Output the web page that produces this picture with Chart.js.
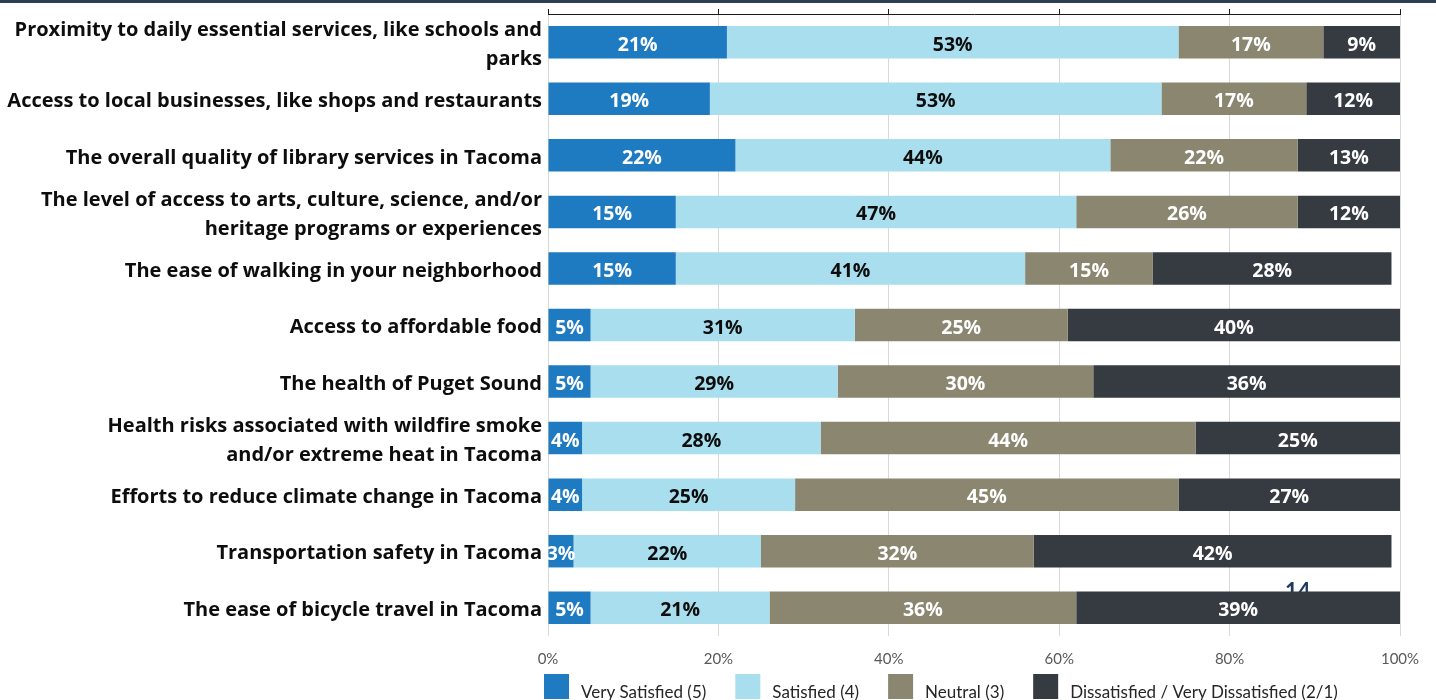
<!DOCTYPE html>
<html>
<head>
<meta charset="utf-8">
<title>Satisfaction with neighborhood and city services</title>
<script src="https://cdn.jsdelivr.net/npm/chart.js@4.4.1/dist/chart.umd.min.js"></script>
<style>
  html, body { margin: 0; padding: 0; background: #ffffff; }
  #wrap { width: 1436px; height: 700px; position: relative; overflow: hidden; }
  canvas { display: block; }
</style>
</head>
<body>
<div id="wrap"><canvas id="chart" width="1436" height="700"></canvas></div>
<script>
// Survey items (multi-line entries are wrapped as shown on the axis)
const categories = [
  ['Proximity to daily essential services, like schools and', 'parks'],
  'Access to local businesses, like shops and restaurants',
  'The overall quality of library services in Tacoma',
  ['The level of access to arts, culture, science, and/or', 'heritage programs or experiences'],
  'The ease of walking in your neighborhood',
  'Access to affordable food',
  'The health of Puget Sound',
  ['Health risks associated with wildfire smoke', 'and/or extreme heat in Tacoma'],
  'Efforts to reduce climate change in Tacoma',
  'Transportation safety in Tacoma',
  'The ease of bicycle travel in Tacoma'
];

const seriesNames = [
  'Very Satisfied (5)',
  'Satisfied (4)',
  'Neutral (3)',
  'Dissatisfied / Very Dissatisfied (2/1)'
];

// Share of respondents (%) per item
const verySatisfied = [21, 19, 22, 15, 15, 5, 5, 4, 4, 3, 5];
const satisfied     = [53, 53, 44, 47, 41, 31, 29, 28, 25, 22, 21];
const neutral       = [17, 17, 22, 26, 15, 25, 30, 44, 45, 32, 36];
const dissatisfied  = [9, 12, 13, 12, 28, 40, 36, 25, 27, 42, 39];

const xTickValues = [0, 20, 40, 60, 80, 100];
const pageNumber = '14';

const LABEL_FONT = '"Open Sans", Lato, "DejaVu Sans", sans-serif';
const SMALL_FONT = 'Lato, "Open Sans", "DejaVu Sans", sans-serif';

// Value labels centred on each visible segment
const segmentLabels = {
  id: 'segmentLabels',
  afterDatasetsDraw(chart) {
    const { ctx, chartArea: a } = chart;
    ctx.save();
    ctx.beginPath();
    ctx.rect(a.left, a.top, a.right - a.left, a.bottom - a.top);
    ctx.clip();
    ctx.font = 'bold 19.5px ' + LABEL_FONT;
    ctx.textAlign = 'center';
    ctx.textBaseline = 'alphabetic';
    chart.data.datasets.forEach((ds, di) => {
      const meta = chart.getDatasetMeta(di);
      meta.data.forEach((bar, i) => {
        const v = ds.data[i];
        const lo = Math.max(Math.min(bar.base, bar.x), a.left);
        const hi = Math.min(Math.max(bar.base, bar.x), a.right);
        ctx.fillStyle = ds.labelColor;
        ctx.fillText(v + '%', (lo + hi) / 2, bar.y + 8.5);
      });
    });
    ctx.restore();
  }
};

// Slide band along the top edge and the page number sitting behind the last bar
const slideDecor = {
  id: 'slideDecor',
  beforeDraw(chart) {
    const ctx = chart.ctx;
    ctx.save();
    ctx.fillStyle = '#2e3d52';
    ctx.fillRect(0, 0, chart.width, 3);
    ctx.restore();
  },
  beforeDatasetsDraw(chart) {
    const ctx = chart.ctx;
    const x = chart.scales.x.getPixelForValue(88);
    ctx.save();
    ctx.font = 'bold 22px ' + SMALL_FONT;
    ctx.fillStyle = '#1f3a5f';
    ctx.textAlign = 'center';
    ctx.textBaseline = 'top';
    ctx.fillText(pageNumber, x, 581);
    ctx.restore();
  }
};

// Legend row under the axis
const bottomLegend = {
  id: 'bottomLegend',
  afterDraw(chart) {
    const ctx = chart.ctx;
    const box = 25, gapText = 12, gapItem = 29;
    let x = 544;
    const top = 674;
    ctx.save();
    ctx.font = '17px ' + SMALL_FONT;
    ctx.textAlign = 'left';
    ctx.textBaseline = 'alphabetic';
    chart.data.datasets.forEach(ds => {
      ctx.fillStyle = ds.backgroundColor;
      ctx.fillRect(x, top, box, box);
      ctx.fillStyle = '#262626';
      const tx = x + box + gapText;
      ctx.fillText(ds.label, tx, 698);
      x = tx + ctx.measureText(ds.label).width + gapItem;
    });
    ctx.restore();
  }
};

const palette = ['#1f7bc1', '#a9deee', '#8b8670', '#363b42'];
const labelColors = ['#ffffff', '#0d0d0d', '#ffffff', '#ffffff'];
const seriesValues = [verySatisfied, satisfied, neutral, dissatisfied];

const setTicks = scale => { scale.ticks = xTickValues.map(v => ({ value: v })); };
const noPadding = s => { s.paddingTop = 0; s.paddingBottom = 0; s.paddingLeft = 0; s.paddingRight = 0; };

new Chart(document.getElementById('chart'), {
  type: 'bar',
  data: {
    labels: categories,
    datasets: seriesValues.map((vals, i) => ({
      label: seriesNames[i],
      data: vals,
      backgroundColor: palette[i],
      labelColor: labelColors[i],
      borderWidth: 0,
      categoryPercentage: 1,
      barPercentage: 0.575
    }))
  },
  options: {
    responsive: false,
    animation: false,
    devicePixelRatio: 1,
    indexAxis: 'y',
    layout: { padding: { left: 0, right: 36, top: 0, bottom: 24 } },
    plugins: {
      legend: { display: false },
      tooltip: { enabled: false }
    },
    scales: {
      x: {
        type: 'linear',
        stacked: true,
        position: 'bottom',
        min: 0,
        max: 100,
        afterBuildTicks: setTicks,
        ticks: {
          callback: v => v + '%',
          color: '#595959',
          font: { family: SMALL_FONT, size: 15 },
          padding: 14,
          maxRotation: 0,
          autoSkip: false
        },
        grid: { color: '#d9d9d9', lineWidth: 1, drawTicks: false },
        border: { display: false },
        afterFit: s => { s.height = 40; noPadding(s); }
      },
      x2: {
        type: 'linear',
        axis: 'x',
        position: 'top',
        min: 0,
        max: 100,
        afterBuildTicks: setTicks,
        ticks: { display: false },
        grid: { drawOnChartArea: false, drawTicks: true, tickLength: 5, color: '#1a1a1a' },
        border: { display: true, color: '#1a1a1a', width: 1 },
        afterFit: s => { s.height = 14; noPadding(s); }
      },
      y: {
        stacked: true,
        grid: { display: false, drawTicks: false },
        border: { display: false },
        ticks: {
          color: '#0d0d0d',
          font: { family: LABEL_FONT, size: 20, weight: 'bold', lineHeight: 1.45 },
          padding: 6,
          labelOffset: 2.5,
          autoSkip: false
        },
        afterFit: s => { s.width = 548; noPadding(s); }
      }
    }
  },
  plugins: [slideDecor, segmentLabels, bottomLegend]
});
</script>
</body>
</html>
